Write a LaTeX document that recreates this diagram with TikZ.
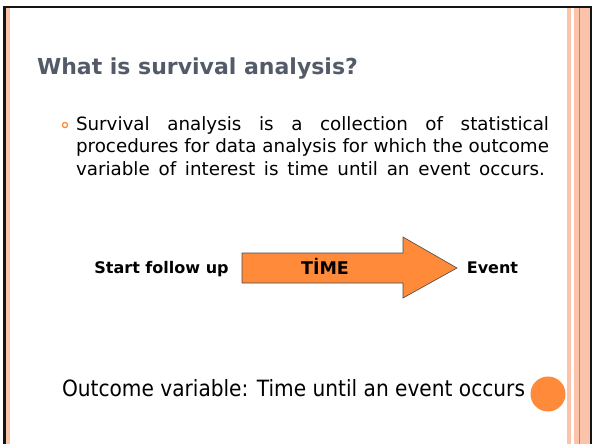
\documentclass[tikz,border=0pt]{standalone}
\usepackage{fontspec}
\setmainfont{DejaVu Sans}
\newfontfamily\narrowfont{DejaVu Sans Condensed}
\definecolor{framedark}{HTML}{141414}
\definecolor{stripe}{HTML}{FBC3AA}
\definecolor{stripeline}{HTML}{E8783E}
\definecolor{titlegray}{HTML}{535B68}
\definecolor{accent}{HTML}{FF8A3A}
\definecolor{arrowedge}{HTML}{4A4A4A}
\tikzset{
  plaintext/.style={inner sep=0pt, outer sep=0pt},
  titletext/.style={plaintext, anchor=base west, text=titlegray, font=\fontsize{22}{26}\selectfont\bfseries},
  bodytext/.style={plaintext, anchor=base west, text=black, font=\fontsize{18.3}{22}\selectfont},
  labeltext/.style={plaintext, anchor=base, text=black, font=\fontsize{16}{19}\selectfont\bfseries},
  bigtext/.style={plaintext, anchor=base west, text=black, font=\narrowfont\fontsize{22.4}{26}\selectfont},
  bulletring/.style={circle, draw=accent, line width=1.3pt, minimum size=5.2pt, inner sep=0pt},
}
\begin{document}
\begin{tikzpicture}[x=1pt,y=-1pt]
\useasboundingbox (0,0) rectangle (592,444);
\fill[white] (0,0) rectangle (592,444);
% slide frame: dark edges and salmon side bands
\fill[framedark] (3,6) rectangle (5.5,444);
\fill[framedark] (3,6) rectangle (592,8.5);
\fill[stripe] (6,8.5) rectangle (9.5,444);
\fill[stripe] (567,8.5) rectangle (571,444);
\fill[stripe] (574,8.5) rectangle (590,444);
\fill[stripeline] (579,8.5) rectangle (580.2,444);
\fill[framedark] (590,6) rectangle (592,444);

% title
\node[titletext] (title) at (37,75) {What is survival analysis?};

% bullet paragraph, justified lines
\node[bulletring] (bullet) at (65,125) {};
\node[bodytext] (line1) at (76,130.5) {\makebox[473pt][s]{Survival analysis is a collection of statistical}};
\node[bodytext] (line2) at (76,152.7) {\makebox[473pt][s]{procedures for data analysis for which the outcome}};
\node[bodytext] (line3) at (76,175) {\makebox[469pt][s]{variable of interest is time until an event occurs.}};

% time arrow
\filldraw[fill=accent, draw=arrowedge, line width=0.6pt]
  (242,253) -- (403,253) -- (403,237) -- (457,268) -- (403,298) -- (403,283) -- (242,283) -- cycle;
\node[labeltext] (start) at (161.5,273) {Start follow up};
\node[labeltext, font=\fontsize{17.5}{20}\selectfont\bfseries] (time) at (325,274) {TİME};
\node[labeltext] (event) at (492.5,273) {Event};

% bottom line and dot
\node[bigtext] (outcome) at (62,396) {Outcome variable: Time until an event occurs};
\fill[accent] (548,394) circle (17.5);
\end{tikzpicture}
\end{document}
